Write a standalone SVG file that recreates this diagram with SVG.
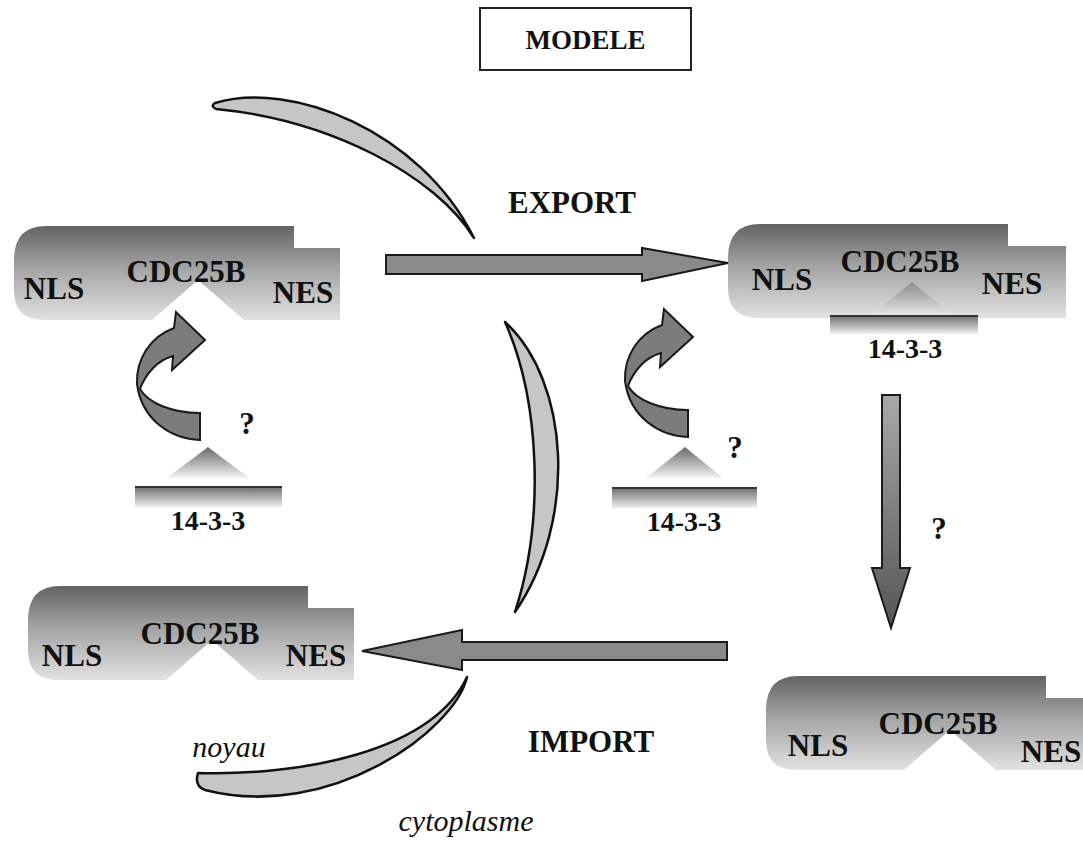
<svg xmlns="http://www.w3.org/2000/svg" width="1083" height="866" viewBox="0 0 1083 866">
<defs>
<linearGradient id="gProt" x1="0" y1="0" x2="0" y2="1">
<stop offset="0" stop-color="#646464"/><stop offset="0.45" stop-color="#a4a4a4"/><stop offset="1" stop-color="#e2e2e2"/>
</linearGradient>
<linearGradient id="gBar" x1="0" y1="0" x2="0" y2="1">
<stop offset="0" stop-color="#707070"/><stop offset="1" stop-color="#efefef"/>
</linearGradient>
<linearGradient id="gTri" x1="0" y1="0" x2="0" y2="1">
<stop offset="0" stop-color="#6a6a6a"/><stop offset="1" stop-color="#f2f2f2"/>
</linearGradient>
<linearGradient id="gTri2" x1="0" y1="0" x2="0" y2="1">
<stop offset="0" stop-color="#8a8a8a"/><stop offset="1" stop-color="#eeeeee"/>
</linearGradient>
<linearGradient id="gVert" x1="0" y1="0" x2="0" y2="1">
<stop offset="0" stop-color="#a8a8a8"/><stop offset="1" stop-color="#555"/>
</linearGradient>
<path id="prot" d="M32,0 H280 V22 H326 V94 H230 L184,54 L138,94 H30 Q0,94 0,64 V34 Q0,0 32,0 Z"/>
<path id="curl" d="M688,410 L688,437 C660,436 630,418 625,381 C624,356 638,334 662,325 L664,309 L693,337 L660,367 L661,353 C646,357 634,370 628,386 C636,400 660,410 688,410 Z"/>
</defs>
<style>
.prot{fill:url(#gProt)}
.lbl{font-family:"Liberation Serif","Times New Roman",serif;font-weight:bold;fill:#111;text-anchor:middle}
.big{font-size:31px}
.mid{font-size:28px}
.ttl{font-size:27px}
.ital{font-family:"Liberation Serif","Times New Roman",serif;font-style:italic;fill:#111;text-anchor:middle;font-size:30px}
.mem{fill:#c6c6c6;stroke:#111;stroke-width:2.5;stroke-linejoin:round}
.arr{fill:#8a8a8a;stroke:#1a1a1a;stroke-width:2;stroke-linejoin:miter}
.curl{fill:#7c7c7c;stroke:#1a1a1a;stroke-width:2}
.bar{fill:url(#gBar)}
.bartop{stroke:#333;stroke-width:2}
.tri{fill:url(#gTri)}
</style>
<rect width="1083" height="866" fill="#fff"/>

<g id="title">
<rect x="480" y="8" width="211" height="62" fill="none" stroke="#222" stroke-width="2"/>
<text class="lbl ttl" x="585.5" y="49">MODELE</text>
</g>

<g id="membrane">
<path class="mem" d="M215,103 C290,80 420,130 474,238 C435,175 330,120 216,109 Q210,106 215,103 Z"/>
<path class="mem" d="M505,322 C570,382 578,520 515,612 C545,520 540,400 505,322 Z"/>
<path class="mem" d="M467,677 C455,730 330,822 205,790 Q194,786 198,773 C300,776 432,752 467,677 Z"/>
</g>

<g id="label-export"><text class="lbl big" x="572" y="213">EXPORT</text></g>
<g id="label-import"><text class="lbl big" x="591" y="752">IMPORT</text></g>
<g id="label-noyau"><text class="ital" x="229" y="757">noyau</text></g>
<g id="label-cytoplasme"><text class="ital" x="466" y="831">cytoplasme</text></g>

<g id="p1" transform="translate(14,226)">
<use href="#prot" class="prot"/>
<text class="lbl big" x="40" y="73">NLS</text>
<text class="lbl big" x="172" y="56">CDC25B</text>
<text class="lbl big" x="289" y="77">NES</text>
</g>

<g id="p2" transform="translate(728,224)">
<path class="prot" d="M32,0 H280 V22 H338 V94 H30 Q0,94 0,64 V34 Q0,0 32,0 Z"/>
<polygon points="140,94 184,58 228,94" fill="url(#gTri2)"/>
<rect class="bar" x="102" y="92" width="148" height="18"/>
<line class="bartop" x1="102" y1="92" x2="250" y2="92"/>
<text class="lbl mid" x="177" y="134">14-3-3</text>
<text class="lbl big" x="54" y="66">NLS</text>
<text class="lbl big" x="172" y="48">CDC25B</text>
<text class="lbl big" x="284" y="70">NES</text>
</g>

<g id="p3" transform="translate(28,586)">
<use href="#prot" class="prot"/>
<text class="lbl big" x="44" y="80">NLS</text>
<text class="lbl big" x="172" y="58">CDC25B</text>
<text class="lbl big" x="288" y="80">NES</text>
</g>

<g id="p4" transform="translate(766,676)">
<use href="#prot" class="prot"/>
<text class="lbl big" x="52" y="80">NLS</text>
<text class="lbl big" x="172" y="58">CDC25B</text>
<text class="lbl big" x="285" y="86">NES</text>
</g>

<g id="free1433-left">
<use href="#curl" class="curl" transform="translate(-488,3)"/>
<text class="lbl big" x="247" y="434">?</text>
<polygon class="tri" points="167,478 208,447 249,478"/>
<rect class="bar" x="135" y="487" width="147" height="20"/>
<line class="bartop" x1="135" y1="487" x2="282" y2="487"/>
<text class="lbl mid" x="208" y="530">14-3-3</text>
</g>

<g id="free1433-mid">
<use href="#curl" class="curl"/>
<text class="lbl big" x="735" y="458">?</text>
<polygon class="tri" points="646,478 685,447 723,478"/>
<rect class="bar" x="612" y="488" width="145" height="20"/>
<line class="bartop" x1="612" y1="488" x2="757" y2="488"/>
<text class="lbl mid" x="684" y="531">14-3-3</text>
</g>

<g id="connectors">
<polygon class="arr" points="386,255 642,255 642,248 728,263 642,281 642,274 386,274"/>
<polygon class="arr" points="727,642 462,642 462,630 362,651 462,670 462,660 727,660"/>
<polygon class="arr" style="fill:url(#gVert)" points="882,395 900,395 900,568 910,568 891,628 872,568 882,568"/>
<text class="lbl big" x="939" y="539">?</text>
</g>
</svg>
